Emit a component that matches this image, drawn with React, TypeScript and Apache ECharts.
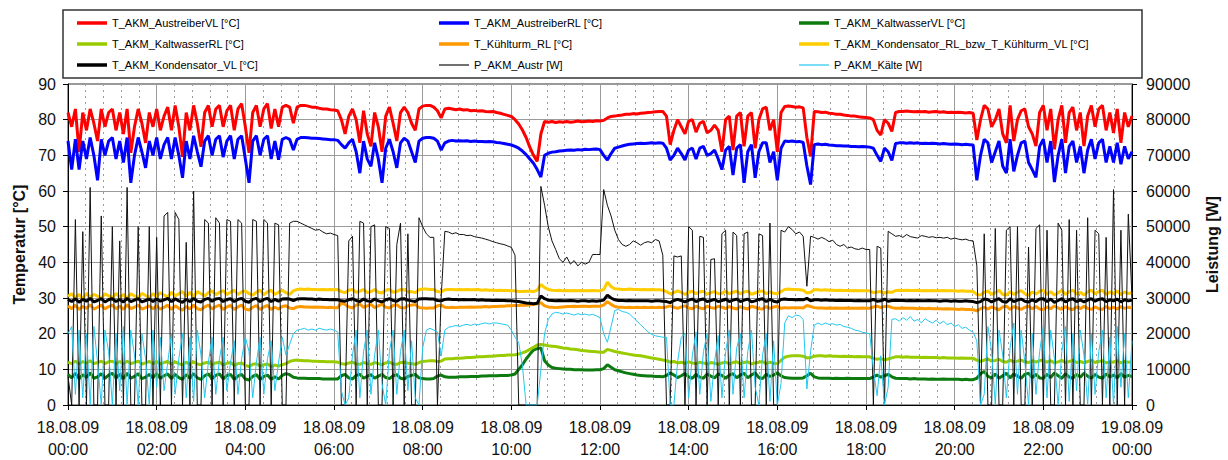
import React, { useEffect, useRef } from 'react';
import * as echarts from 'echarts';

// Sampling step of all series, minutes from 18.08.09 00:00
const STEP_MIN = 5;

const X_TICK_LABELS = [
  '18.08.09\n00:00', '18.08.09\n02:00', '18.08.09\n04:00', '18.08.09\n06:00', '18.08.09\n08:00',
  '18.08.09\n10:00', '18.08.09\n12:00', '18.08.09\n14:00', '18.08.09\n16:00', '18.08.09\n18:00',
  '18.08.09\n20:00', '18.08.09\n22:00', '19.08.09\n00:00',
];

const T_AUSTREIBER_VL = [
  82, 78, 83, 71, 82, 77, 83, 79, 74, 83, 78, 82,
  83, 77, 82, 76, 83, 70.7, 78, 83, 79, 73.5, 82, 78,
  83, 77, 81, 83.5, 77, 84, 78, 69.6, 82, 77, 84, 79,
  72.4, 82, 84, 78, 83, 84, 78, 82.5, 84, 77, 83, 84.5,
  78, 70.7, 82, 84, 78, 83, 84.5, 77.5, 83, 78, 83.5, 84,
  83.5, 79, 83.5, 84, 84, 83.8, 83.5, 83.5, 83.2, 83, 83, 82.8,
  82.7, 82.5, 80, 76, 81, 83, 80, 73.5, 82.5, 76, 72.5, 82,
  78, 71, 81, 83.5, 79, 74, 82, 83.5, 82, 79, 77, 83,
  83.8, 84, 84, 83.5, 82.5, 80.5, 83, 83.2, 83, 82.8, 83, 82.7,
  82.8, 82.5, 82.6, 82.4, 82.5, 82.3, 82.2, 82.3, 82, 81.8, 81.5, 81.2,
  80.9, 80, 78.8, 77.1, 75, 72.3, 70, 68.3, 76, 79.5, 79.3, 79.5,
  79.2, 79.4, 79.3, 79.5, 79.3, 79.4, 79.6, 79.4, 79.5, 79.6, 79.5, 79.7,
  79.6, 79.8, 80.5, 80.9, 81, 81.2, 81.3, 81.5, 81.5, 81.7, 81.6, 81.8,
  81.9, 82, 82.1, 82.2, 82.3, 82.3, 81, 73, 77, 80, 78, 76,
  79.6, 80, 76.5, 79, 79.5, 76.3, 77, 78.5, 77, 71, 80, 81,
  71.5, 81, 82, 72.5, 81, 82, 72, 80, 83, 83.5, 77, 80,
  71, 82, 83.7, 83.8, 83.7, 83.5, 83.6, 83.3, 75, 69.7, 82.3, 82.2,
  82, 82.1, 81.8, 81.7, 81.5, 81.5, 81.3, 81.2, 81, 81, 80.8, 80.7,
  80.6, 80.5, 80, 77, 75.7, 80, 79, 76.7, 82, 82.3, 82.3, 82.4,
  82.3, 82.2, 82.3, 82.2, 82.3, 82.1, 82.2, 82.3, 82.1, 82.2, 82, 82.1,
  82, 82.1, 82, 81.9, 82, 81.8, 74.3, 80, 84, 83, 78, 80,
  83, 76, 73.5, 84, 74, 80, 82.5, 83, 78, 76, 72.6, 82,
  84, 77, 83, 71.7, 80, 84, 73.5, 82, 83.5, 77, 82, 72.6,
  81, 84, 78, 83, 84, 77, 82, 76.3, 83, 73.5, 82, 78,
  81,
];

const T_AUSTREIBER_RL = [
  74, 66, 74.5, 66, 74, 69, 75, 70, 63, 74.5, 70, 74,
  75, 69, 74, 68, 75, 62.3, 70, 75, 71, 66.5, 74, 70,
  75, 69, 73, 75, 69, 75, 70, 63.7, 74, 69, 75.5, 71,
  66.8, 74, 75.5, 70, 74.5, 75.5, 69.5, 74, 75.5, 69, 74.5, 75.5,
  69, 62.3, 74, 75.5, 70, 74.5, 75.5, 69, 74, 68.8, 74.5, 75,
  74.5, 71.5, 74.5, 75, 75, 74.9, 74.8, 74.8, 74.7, 74.6, 74.5, 74.4,
  74.4, 74.2, 73, 72, 73.5, 74.5, 71, 65, 74, 69, 66.9, 73.5,
  69, 62.3, 72, 74.5, 71, 66.5, 73.5, 74.8, 74, 71, 68, 74,
  74.8, 75, 75, 74.8, 74, 71.5, 73.5, 74, 74.2, 74, 74.1, 74,
  74.1, 73.9, 74, 73.9, 73.9, 73.8, 73.9, 73.8, 73.6, 73.5, 73.3, 73.1,
  72.9, 72.5, 72, 71.2, 70.2, 69, 67.8, 66, 63.9, 70, 70.6, 70.9,
  71, 71.2, 71.3, 71.4, 71.5, 71.4, 71.6, 71.5, 71.7, 71.6, 71.7, 71.8,
  71.6, 70, 68.7, 70.5, 72, 72.3, 72.6, 72.9, 73.1, 73.2, 73.3, 73.4,
  73.3, 73.4, 73.5, 73.4, 73.5, 73.4, 72, 68.7, 70, 72, 70.5, 68.7,
  71.5, 72, 69, 72, 72.5, 70, 70.5, 71.5, 69, 66, 71.5, 72.5,
  64.5, 72, 73, 62.3, 71, 73, 63.7, 71, 73.5, 73.5, 68, 71,
  63, 72, 74, 73.9, 74, 73.8, 73.9, 73.6, 67, 61.8, 73, 73.2,
  73, 73.1, 72.9, 72.8, 72.7, 72.7, 72.6, 72.6, 72.5, 72.5, 72.4, 72.5,
  72.4, 72.3, 72, 70, 68.3, 72, 71, 68.6, 73.3, 73.5, 73.5, 73.4,
  73.5, 73.4, 73.5, 73.3, 73.4, 73.3, 73.4, 73.3, 73.2, 73.3, 73.2, 73.1,
  73.2, 73.1, 73, 73.1, 73, 72.9, 63, 70, 74.5, 73.5, 68, 71,
  74, 67, 65, 74.5, 65.5, 70, 73.5, 74, 68, 66, 63.8, 72.5,
  74.5, 68, 74, 62.5, 70, 74.5, 65, 72.5, 74, 68, 72.5, 65,
  71.5, 74.5, 69, 73.5, 74.5, 68, 72.5, 68, 73.5, 67.5, 72.5, 69,
  71,
];

const T_KALTWASSER_VL = [
  8.6, 7.6, 8.9, 7.4, 8.5, 7.8, 9, 7.5, 7.9, 8.8, 7.5, 8.4,
  8.9, 7.6, 8.6, 7.4, 8.9, 7.5, 8, 8.8, 7.4, 7.8, 8.6, 7.6,
  8.8, 7.5, 8.2, 8.7, 7.4, 8.6, 7.7, 7.2, 8.5, 7.5, 8.8, 7.6,
  7.2, 8.2, 8.7, 7.4, 8.3, 8.7, 7.3, 8.2, 8.6, 7.2, 8.1, 8.6,
  7.3, 7, 8, 8.5, 7.2, 8, 8.4, 7.2, 7.9, 7.3, 8.3, 8.8,
  8.5, 7.8, 7.6, 7.5, 7.5, 7.4, 7.4, 7.4, 7.4, 7.3, 7.3, 7.3,
  7.3, 7.3, 8.2, 8.6, 7.6, 7.3, 8.3, 8.6, 7.5, 8, 8.5, 7.5,
  8.1, 8.6, 7.7, 7.4, 8.2, 8.5, 7.5, 7.3, 8, 8.3, 8.6, 7.6,
  7.4, 7.3, 7.3, 7.4, 8.1, 8.4, 7.9, 7.8, 7.8, 7.8, 7.9, 7.9,
  7.9, 8, 8, 8, 8.1, 8.1, 8.2, 8.2, 8.2, 8.3, 8.3, 8.3,
  8.4, 8.7, 10, 11.3, 12.9, 14.2, 15.4, 15.8, 16, 12.4, 11.2, 10.5,
  10.3, 10.2, 10.1, 10, 10, 9.9, 9.9, 9.9, 9.8, 9.8, 9.8, 9.9,
  9.9, 10.2, 11.3, 10.6, 9.9, 9.6, 9.3, 9, 8.8, 8.6, 8.4, 8.3,
  8.2, 8.1, 8.1, 8, 8, 7.9, 8.3, 9, 8.4, 7.7, 8.2, 8.8,
  7.9, 7.5, 8.6, 7.8, 7.5, 8.7, 8.1, 7.6, 8.7, 8.3, 7.5, 8.4,
  8.8, 7.6, 8.4, 8.9, 7.6, 8.4, 9, 7.7, 7.4, 8.6, 8, 8.4,
  9, 8.2, 7.7, 7.6, 7.5, 7.5, 7.5, 7.6, 8.2, 8.9, 7.9, 7.6,
  7.5, 7.5, 7.5, 7.4, 7.5, 7.4, 7.4, 7.5, 7.4, 7.4, 7.4, 7.4,
  7.4, 7.4, 7.9, 8.4, 7.8, 8.2, 8.6, 7.9, 7.5, 7.4, 7.4, 7.4,
  7.3, 7.4, 7.3, 7.3, 7.3, 7.2, 7.3, 7.2, 7.2, 7.3, 7.2, 7.2,
  7.2, 7.2, 7.1, 7.2, 7.1, 7.1, 7.5, 8.8, 9.4, 8, 7.6, 8.7,
  7.5, 8.2, 8.9, 7.6, 8.7, 8.1, 7.5, 8.6, 8.9, 7.7, 8.6, 7.6,
  7.5, 8.6, 7.7, 9, 8.2, 7.5, 8.8, 7.8, 7.5, 8.6, 7.8, 8.9,
  8.1, 7.5, 8.6, 7.8, 7.5, 8.7, 7.9, 8.4, 7.6, 8.8, 7.8, 8.3,
  8,
];

const T_KALTWASSER_RL = [
  12, 11.6, 12.3, 11.5, 12.2, 11.7, 12.4, 11.6, 11.9, 12.3, 11.6, 12.1,
  12.3, 11.6, 12.2, 11.5, 12.3, 11.6, 11.9, 12.3, 11.5, 11.8, 12.2, 11.6,
  12.2, 11.5, 11.9, 12.2, 11.4, 12.1, 11.6, 11.3, 12, 11.4, 12.1, 11.5,
  11.3, 11.8, 12, 11.3, 11.8, 12, 11.2, 11.7, 11.9, 11.1, 11.6, 11.8,
  11.1, 10.8, 11.4, 11.6, 10.9, 11.3, 11.5, 10.8, 11.2, 10.9, 11.3, 11.6,
  12.2, 12.5, 12.6, 12.5, 12.4, 12.4, 12.3, 12.3, 12.2, 12.2, 12.1, 12.1,
  12.1, 12, 11.6, 11.4, 11.8, 12, 11.5, 11.4, 11.9, 11.6, 11.4, 11.9,
  11.6, 11.3, 11.8, 12, 11.5, 11.4, 11.9, 12, 11.7, 11.6, 11.4, 11.9,
  12.2, 12.3, 12.4, 12.4, 12.2, 12.3, 12.9, 13, 13, 13.1, 13.1, 13.2,
  13.3, 13.3, 13.4, 13.5, 13.5, 13.6, 13.7, 13.7, 13.8, 13.9, 13.9, 14,
  14, 14.1, 14.3, 14.6, 15, 15.6, 16.2, 16.8, 17, 16.8, 16.6, 16.5,
  16.4, 16.2, 16, 15.9, 15.7, 15.6, 15.5, 15.3, 15.2, 15.1, 15, 14.9,
  14.8, 14.8, 15.6, 15.3, 15, 14.8, 14.6, 14.4, 14.2, 14, 13.9, 13.8,
  13.6, 13.4, 13.2, 13, 12.8, 12.6, 12.4, 12, 12.2, 11.8, 12, 11.7,
  12.1, 11.8, 11.6, 12, 11.8, 11.5, 11.9, 11.7, 11.4, 11.8, 12, 11.5,
  11.9, 12.1, 11.6, 11.9, 12.1, 11.5, 11.8, 12, 12.2, 11.6, 12, 11.7,
  11.6, 12.5, 13.4, 13.7, 13.8, 13.8, 13.8, 13.7, 13.2, 13.3, 13.7, 13.8,
  13.8, 13.7, 13.8, 13.7, 13.7, 13.6, 13.7, 13.6, 13.6, 13.5, 13.6, 13.5,
  13.5, 13.5, 13.1, 12.8, 13, 12.7, 12.9, 13.2, 13.5, 13.5, 13.4, 13.5,
  13.4, 13.4, 13.4, 13.3, 13.4, 13.3, 13.3, 13.3, 13.2, 13.3, 13.2, 13.2,
  13.2, 13.1, 13.2, 13.1, 13.1, 13.1, 12.6, 12.2, 12.6, 12.9, 12.3, 12.5,
  12.8, 12.2, 12, 12.6, 12.1, 12.3, 12.6, 12.1, 11.9, 12.4, 12, 12.4,
  12.6, 12, 12.4, 11.8, 12.1, 12.5, 11.9, 12.2, 12.5, 11.9, 12.2, 11.8,
  12.2, 12.5, 11.9, 12.2, 12.4, 11.8, 12.1, 12, 12.4, 11.8, 12.2, 12,
  12.1,
];

const T_KUEHLTURM_RL = [
  27.8, 27, 28, 26.8, 27.6, 27.1, 28.1, 26.9, 27.4, 28, 26.9, 27.6,
  28, 27, 27.7, 26.8, 28.1, 27, 27.4, 28, 26.9, 27.3, 27.8, 27,
  27.8, 26.9, 27.4, 28, 26.8, 27.8, 27.1, 26.6, 27.6, 26.9, 28, 27,
  26.7, 27.5, 28, 26.9, 27.6, 28, 26.8, 27.5, 27.9, 26.8, 27.5, 28,
  26.9, 26.6, 27.4, 27.9, 26.8, 27.5, 27.9, 26.8, 27.4, 26.9, 27.6, 27.8,
  27.2, 27, 27.5, 27.6, 27.5, 27.5, 27.4, 27.5, 27.4, 27.4, 27.3, 27.4,
  27.3, 27.3, 28.6, 28.2, 27.5, 27.2, 28, 28.3, 27.4, 27.8, 28.2, 27.3,
  27.8, 28.3, 27.4, 27.2, 27.9, 28.1, 27.3, 27.2, 27.8, 28, 28.2, 27.3,
  27.2, 27.1, 27.2, 27.2, 27.8, 28, 27.4, 27.3, 27.4, 27.3, 27.4, 27.4,
  27.4, 27.5, 27.4, 27.5, 27.5, 27.6, 27.5, 27.6, 27.6, 27.7, 27.7, 27.8,
  27.8, 27.9, 27.9, 28, 28, 28.1, 28.2, 28.4, 28.7, 27.8, 27.5, 27.4,
  27.3, 27.4, 27.5, 27.6, 27.6, 27.7, 27.6, 27.7, 27.7, 27.6, 27.7, 27.7,
  27.7, 28, 29, 28.2, 27.6, 27.4, 27.4, 27.3, 27.4, 27.3, 27.4, 27.3,
  27.4, 27.3, 27.4, 27.3, 27.4, 27.3, 27.5, 27.8, 27.4, 27.1, 27.5, 27.8,
  27.2, 27, 27.7, 27.2, 27, 27.7, 27.3, 27.1, 27.7, 27.4, 27, 27.6,
  27.2, 26.9, 27.6, 27.2, 26.9, 27.7, 27.4, 27, 26.9, 27.6, 27.1, 27.5,
  27.7, 27.1, 27.3, 27.2, 27.3, 27.2, 27.3, 27.2, 27.9, 27.6, 27.3, 27.2,
  27.2, 27.1, 27.2, 27.1, 27.2, 27.1, 27.1, 27.2, 27.1, 27.1, 27.1, 27.2,
  27.1, 27.1, 27.5, 27.7, 27.3, 27.6, 27.7, 27.3, 27.1, 27.1, 27.2, 27.1,
  27.1, 27.1, 27, 27.1, 27, 27.1, 27, 27, 27, 26.9, 27, 26.9,
  26.9, 26.8, 26.9, 26.8, 26.8, 26.7, 26.4, 27, 27.4, 26.9, 27.5, 27.1,
  26.7, 27.5, 27.7, 26.8, 27.6, 27.2, 26.8, 27.4, 27.7, 27, 27.6, 26.9,
  26.8, 27.5, 27, 27.8, 27.2, 26.8, 27.6, 27, 26.8, 27.5, 27, 27.7,
  27.1, 26.8, 27.5, 27, 26.8, 27.6, 27, 27.4, 26.9, 27.6, 27.1, 27.4,
  27.2,
];

const T_KONDENSATOR_RL = [
  30.5, 31.2, 30, 31, 29.8, 31.3, 30.2, 31, 30.5, 29.8, 31.2, 30.6,
  30, 31.3, 30.2, 31, 29.9, 31.2, 30.6, 30, 31.3, 30.7, 30.1, 31.2,
  30.4, 31.5, 30.8, 30.3, 31.6, 30.6, 31.2, 31.8, 30.5, 31.6, 30.4, 31.8,
  31.2, 30.6, 31.5, 32, 30.9, 31.6, 32.1, 31, 31.6, 32.2, 31, 31.7,
  32, 31.2, 30.8, 31.6, 32.2, 30.9, 31.7, 32.2, 31, 31.6, 32.2, 31.5,
  31, 32, 32.4, 32.5, 32.4, 32.5, 32.4, 32.4, 32.3, 32.4, 32.3, 32.4,
  32.3, 32.4, 31.8, 31.5, 32.2, 32.4, 31.6, 31.9, 32.4, 31.5, 31.8, 32.4,
  31.6, 31.4, 32.2, 32.4, 31.6, 31.8, 32.4, 32.3, 31.7, 31.8, 31.5, 32.3,
  32.5, 32.5, 32.4, 32.4, 31.8, 31.7, 32.3, 32.4, 32.4, 32.3, 32.4, 32.3,
  32.4, 32.3, 32.3, 32.4, 32.2, 32.3, 32.2, 32.2, 32.1, 32.2, 32.1, 32.1,
  32, 32, 31.8, 31.8, 31.9, 31.9, 31.8, 32.2, 33.8, 32.9, 32.4, 32.2,
  32.1, 32.2, 32, 32.1, 32, 32.1, 32, 32.1, 32, 32, 32.1, 32,
  32, 32.4, 34.4, 33.2, 32.6, 32.5, 32.4, 32.4, 32.5, 32.4, 32.4, 32.3,
  32.4, 32.3, 32.4, 32.3, 32.3, 32.2, 31.8, 31.2, 31.5, 32, 31.6, 31,
  31.6, 31.9, 31.2, 31.7, 31.9, 31.1, 31.5, 31.8, 31.2, 31.3, 31.9, 31.2,
  31.6, 31.9, 31.2, 31.7, 31.9, 31, 31.4, 31.8, 32, 31.2, 31.7, 31.3,
  31.2, 31.8, 32.4, 32.5, 32.4, 32.4, 32.3, 32.2, 31.4, 31.6, 32.3, 32.3,
  32.2, 32.3, 32.2, 32.2, 32.1, 32.2, 32.1, 32.1, 32, 32.1, 32, 32,
  32, 32, 31.5, 31.7, 31.8, 31.4, 31.7, 31.6, 32.1, 32.2, 32.1, 32.2,
  32.1, 32.1, 32.2, 32, 32.1, 32, 32.1, 32, 32, 32.1, 32, 32,
  32, 31.9, 32, 31.9, 31.9, 31.8, 31, 30.8, 31.6, 32, 31, 31.5,
  32.2, 31, 30.8, 31.8, 31, 31.6, 32.1, 31.2, 30.7, 31.7, 31.1, 31.9,
  32.2, 31, 31.8, 30.8, 31.5, 32.1, 31, 31.8, 32.2, 31.1, 31.6, 30.8,
  31.7, 32.2, 31.1, 31.8, 32.2, 31, 31.7, 31.2, 32, 30.9, 31.7, 31.2,
  31.6,
];

const T_KONDENSATOR_VL = [
  29.6, 29, 29.8, 28.8, 29.6, 29.1, 29.9, 28.9, 29.3, 29.8, 28.9, 29.5,
  29.8, 29, 29.6, 28.9, 29.9, 29, 29.4, 29.8, 28.9, 29.3, 29.7, 29,
  29.7, 29.1, 29.5, 29.9, 29, 29.8, 29.2, 28.8, 29.6, 29, 29.9, 29.1,
  28.9, 29.6, 29.9, 29.1, 29.7, 29.9, 29, 29.6, 29.8, 29, 29.6, 29.9,
  29.1, 28.8, 29.6, 29.9, 29, 29.6, 29.9, 29, 29.6, 29.1, 29.7, 29.8,
  29.7, 29.3, 29.7, 29.8, 29.8, 29.7, 29.7, 29.6, 29.7, 29.6, 29.6, 29.5,
  29.6, 29.5, 29.2, 29.1, 29.5, 29.8, 29.3, 29, 29.7, 29.2, 29, 29.7,
  29.2, 28.9, 29.5, 29.8, 29.3, 29.1, 29.7, 29.8, 29.4, 29.2, 29, 29.7,
  29.8, 29.8, 29.7, 29.7, 29.3, 29.2, 29.6, 29.7, 29.6, 29.6, 29.5, 29.6,
  29.5, 29.5, 29.6, 29.4, 29.5, 29.4, 29.4, 29.3, 29.4, 29.3, 29.3, 29.2,
  29.2, 29.1, 29, 28.8, 28.6, 28.5, 28.4, 28.5, 30.6, 29.8, 29.4, 29.3,
  29.2, 29.3, 29.2, 29.2, 29.3, 29.2, 29.1, 29.2, 29.2, 29.1, 29.2, 29.1,
  29.2, 29.4, 30.8, 30, 29.5, 29.3, 29.3, 29.2, 29.3, 29.2, 29.2, 29.2,
  29.2, 29.2, 29.1, 29.2, 29.2, 29.1, 29, 28.7, 29.3, 29.6, 29.3, 28.9,
  29.4, 29.7, 29, 29.5, 29.7, 29, 29.3, 29.6, 29, 29.3, 29.7, 29,
  29.4, 29.7, 29, 29.4, 29.7, 28.9, 29.2, 29.6, 29.8, 29, 29.6, 29.1,
  28.9, 29.6, 29.7, 29.6, 29.6, 29.5, 29.6, 29.5, 29.9, 29.2, 29.5, 29.5,
  29.4, 29.5, 29.4, 29.4, 29.3, 29.4, 29.3, 29.3, 29.3, 29.2, 29.3, 29.2,
  29.2, 29.2, 29.6, 29.1, 29.2, 29.7, 29.1, 29.3, 29.4, 29.3, 29.3, 29.2,
  29.3, 29.2, 29.3, 29.2, 29.2, 29.3, 29.2, 29.2, 29.1, 29.2, 29.2, 29.1,
  29.2, 29.1, 29.1, 29.2, 29.1, 29, 28.7, 29, 29.7, 29.5, 28.9, 29.4,
  29.8, 29, 28.8, 29.8, 29, 29.4, 29.7, 29.1, 28.9, 29.5, 29, 29.7,
  29.8, 29, 29.7, 28.8, 29.3, 29.8, 28.9, 29.5, 29.8, 29, 29.5, 28.9,
  29.4, 29.8, 29.1, 29.6, 29.8, 29, 29.5, 29.2, 29.7, 28.9, 29.5, 29.2,
  29.4,
];

const P_AUSTR = [
  8000, 0, 52000, 0, 48600, 0, 61000, 0, 0, 53000, 0, 0,
  50000, 0, 46000, 0, 61000, 0, 0, 50000, 0, 0, 50000, 0,
  47000, 0, 53000, 54000, 0, 54000, 52000, 0, 45600, 0, 60000, 0,
  0, 52000, 51000, 0, 52500, 51000, 0, 52000, 51500, 0, 52000, 51000,
  0, 0, 52000, 51500, 0, 52000, 51000, 0, 51000, 50500, 0, 0,
  51000, 51500, 51500, 51000, 50500, 50000, 49500, 49000, 49200, 48500, 48000, 48200,
  47800, 47500, 0, 0, 46000, 47300, 0, 51500, 51000, 0, 50000, 50500,
  0, 0, 50000, 49500, 0, 45000, 51000, 0, 48000, 0, 0, 52500,
  50000, 48000, 47000, 47000, 0, 30000, 48700, 48500, 48000, 48300, 47800, 47800,
  47500, 47600, 47200, 47000, 46800, 46500, 46200, 45800, 45500, 45200, 45000, 44600,
  44200, 42000, 0, 0, 0, 0, 0, 0, 61300, 56000, 50000, 46000,
  43600, 41000, 40000, 41500, 39500, 40500, 39000, 40000, 39500, 40000, 42200, 42200,
  42200, 60400, 56000, 53000, 49000, 46400, 45000, 44500, 45000, 46000, 45500, 44800,
  45500, 45800, 45500, 46400, 46000, 42000, 0, 0, 41800, 41500, 41800, 0,
  50000, 49000, 0, 47300, 47000, 0, 40800, 41000, 0, 48000, 49000, 0,
  48500, 47500, 0, 48000, 48500, 0, 0, 48000, 47500, 0, 51000, 0,
  0, 49000, 48500, 50000, 49200, 48000, 48500, 47300, 33300, 47300, 47000, 46500,
  47000, 46500, 45800, 46200, 45000, 44500, 45000, 44000, 44300, 43800, 43600, 44000,
  43600, 43600, 0, 44500, 44000, 0, 48700, 48000, 47300, 47500, 47000, 47800,
  47200, 47000, 46800, 47500, 47300, 47000, 47200, 46900, 47000, 46800, 47000, 46500,
  46800, 46500, 46300, 46500, 46100, 46000, 39000, 0, 48000, 0, 0, 49500,
  0, 0, 49000, 50000, 0, 50000, 0, 0, 44300, 0, 49500, 50500,
  0, 49000, 0, 0, 51000, 49000, 0, 52000, 0, 49000, 0, 0,
  52500, 0, 49000, 48000, 0, 47000, 0, 60400, 0, 49000, 0, 53500,
  30000,
];

const P_KAELTE = [
  20000, 22000, 3000, 21000, 2000, 20000, 0, 22000, 12000, 0, 21000, 15000,
  0, 20000, 4000, 22000, 0, 21000, 14000, 0, 20000, 13000, 0, 21000,
  5000, 19000, 4000, 12000, 20000, 3000, 13000, 20000, 2000, 19000, 1000, 21000,
  14000, 2000, 12000, 19000, 3000, 13000, 19000, 4000, 12000, 18000, 3000, 13000,
  19000, 15000, 2000, 12000, 19000, 3000, 13000, 18000, 4000, 12000, 19000, 14000,
  17000, 20000, 21000, 21200, 21500, 21000, 21300, 21000, 21500, 21200, 21000, 21300,
  21000, 20500, 4000, 0, 2000, 14000, 21000, 2000, 15000, 21000, 3000, 14000,
  21000, 6000, 0, 15000, 21000, 3000, 15000, 21000, 4000, 18000, 2000, 0,
  16000, 21000, 21500, 21000, 20500, 13700, 21000, 21800, 22000, 22300, 22000, 22400,
  22600, 22300, 22700, 22500, 22800, 23000, 22700, 23000, 23000, 22800, 22600, 22400,
  21000, 19000, 17500, 11000, 0, 0, 0, 0, 10000, 20000, 24000, 25500,
  26000, 25800, 25500, 25800, 25500, 25200, 25600, 25300, 25500, 25200, 25400, 25000,
  24500, 20000, 17600, 22000, 26500, 26800, 26200, 26000, 25500, 24500, 23500, 22500,
  21500, 20500, 19800, 19400, 19200, 19000, 19000, 0, 0, 12000, 19000, 20000,
  2000, 14000, 20500, 3000, 15000, 20000, 1000, 12000, 19500, 2000, 15000, 21000,
  3000, 16000, 20000, 2000, 15000, 21000, 5000, 0, 14000, 20000, 1000, 18000,
  0, 6000, 23000, 25000, 24500, 25200, 25000, 24000, 4500, 15000, 22400, 23000,
  22500, 23000, 22600, 22800, 22400, 22600, 22000, 21800, 21500, 21000, 20800, 20400,
  20200, 20000, 10000, 2600, 13800, 0, 5000, 24000, 24200, 23500, 24500, 23800,
  24800, 23500, 24000, 23000, 24200, 23500, 23000, 23800, 22800, 23500, 22500, 23000,
  22000, 22500, 21500, 21800, 21000, 20400, 18000, 0, 3000, 22000, 15000, 0,
  21000, 14000, 2000, 16000, 23000, 3000, 21000, 12000, 0, 20000, 3000, 15000,
  22000, 2000, 21000, 13000, 0, 15000, 22000, 1000, 20000, 4000, 21000, 14000,
  0, 20000, 3000, 15000, 21000, 2000, 19000, 0, 22000, 5000, 20000, 2000,
  18000,
];

const FONT = '"Liberation Sans", Arial, Helvetica, sans-serif';

// legend glyphs: thick and thin horizontal bars
const ICON_THICK = 'path://M0 0H30V3.5H0Z';
const ICON_THIN = 'path://M0 0H30V1.2H0Z';

const SERIES_DEFS = [
  { name: 'T_AKM_AustreiberVL [°C]', data: T_AUSTREIBER_VL, color: '#ff0000', width: 3, axis: 0 },
  { name: 'T_AKM_AustreiberRL [°C]', data: T_AUSTREIBER_RL, color: '#0000ff', width: 3, axis: 0 },
  { name: 'T_AKM_KaltwasserVL [°C]', data: T_KALTWASSER_VL, color: '#0d7a10', width: 3, axis: 0 },
  { name: 'T_AKM_KaltwasserRL [°C]', data: T_KALTWASSER_RL, color: '#99cc00', width: 3, axis: 0 },
  { name: 'T_Kühlturm_RL [°C]', data: T_KUEHLTURM_RL, color: '#ff9900', width: 3, axis: 0 },
  { name: 'T_AKM_Kondensator_RL_bzw_T_Kühlturm_VL [°C]', data: T_KONDENSATOR_RL, color: '#ffcc00', width: 3, axis: 0 },
  { name: 'T_AKM_Kondensator_VL [°C]', data: T_KONDENSATOR_VL, color: '#000000', width: 3, axis: 0 },
  { name: 'P_AKM_Austr [W]', data: P_AUSTR, color: '#111111', width: 1, axis: 1 },
  { name: 'P_AKM_Kälte [W]', data: P_KAELTE, color: '#22c8f0', width: 1, axis: 1 },
];

const LEGEND_COLUMNS = [
  ['T_AKM_AustreiberVL [°C]', 'T_AKM_KaltwasserRL [°C]', 'T_AKM_Kondensator_VL [°C]'],
  ['T_AKM_AustreiberRL [°C]', 'T_Kühlturm_RL [°C]', 'P_AKM_Austr [W]'],
  ['T_AKM_KaltwasserVL [°C]', 'T_AKM_Kondensator_RL_bzw_T_Kühlturm_VL [°C]', 'P_AKM_Kälte [W]'],
];
const LEGEND_LEFTS = [77, 439, 799];

export default function App() {
  const ref = useRef<HTMLDivElement>(null);

  useEffect(() => {
    if (!ref.current) return;
    const chart = echarts.init(ref.current, null, { renderer: 'svg' });

    const series = SERIES_DEFS.map((s) => ({
      name: s.name,
      type: 'line',
      yAxisIndex: s.axis,
      symbol: 'none',
      data: s.data.map((v, i) => [i * STEP_MIN, v]),
      lineStyle: { color: s.color, width: s.width },
      itemStyle: { color: s.color },
      emphasis: { disabled: true },
      silent: true,
    }));

    const widthByName: Record<string, number> = {};
    SERIES_DEFS.forEach((s) => { widthByName[s.name] = s.width; });

    const legends = LEGEND_COLUMNS.map((col, k) => ({
      orient: 'vertical',
      left: LEGEND_LEFTS[k],
      top: 17,
      padding: 0,
      itemWidth: 30,
      itemHeight: 12,
      itemGap: 9,
      symbolKeepAspect: true,
      selectedMode: false,
      data: col.map((name) => ({ name, icon: widthByName[name] > 1 ? ICON_THICK : ICON_THIN })),
      textStyle: { fontFamily: FONT, fontSize: 11, color: '#000', lineHeight: 12 },
    }));

    const option = {
      animation: false,
      backgroundColor: '#ffffff',
      textStyle: { fontFamily: FONT },
      grid: { left: 68, right: 90, top: 84, bottom: 54, show: true, borderColor: '#333', borderWidth: 1 },
      legend: legends,
      graphic: [
        {
          type: 'rect',
          shape: { x: 63, y: 10, width: 1079, height: 68 },
          style: { fill: 'none', stroke: '#333', lineWidth: 1.5 },
          silent: true,
        },
      ],
      xAxis: {
        type: 'value',
        min: 0,
        max: 1440,
        interval: 120,
        axisLine: { show: true, onZero: false, lineStyle: { color: '#000', width: 1 } },
        axisTick: { show: true, length: 5, lineStyle: { color: '#000' } },
        axisLabel: {
          color: '#111',
          fontSize: 16,
          lineHeight: 22,
          margin: 11,
          fontFamily: FONT,
          formatter: (v: number) => X_TICK_LABELS[Math.round(v / 120)] ?? '',
        },
        splitLine: { show: true, lineStyle: { color: '#9a9a9a', width: 1 } },
        minorTick: { show: false, splitNumber: 5 },
        minorSplitLine: { show: true, lineStyle: { color: '#9a9a9a', width: 1, type: [2, 4] } },
      },
      yAxis: [
        {
          type: 'value',
          min: 0,
          max: 90,
          interval: 10,
          name: 'Temperatur [°C]',
          nameLocation: 'middle',
          nameRotate: 90,
          nameGap: 40,
          nameTextStyle: { fontFamily: FONT, fontSize: 16, fontWeight: 'bold', color: '#111' },
          axisLine: { show: true, lineStyle: { color: '#000', width: 1 } },
          axisTick: { show: true, length: 5, lineStyle: { color: '#000' } },
          axisLabel: { color: '#111', fontSize: 16, margin: 12, fontFamily: FONT },
          splitLine: { show: true, lineStyle: { color: '#9a9a9a', width: 1 } },
        },
        {
          type: 'value',
          min: 0,
          max: 90000,
          interval: 10000,
          position: 'right',
          name: 'Leistung [W]',
          nameLocation: 'middle',
          nameRotate: 90,
          nameGap: 72,
          nameTextStyle: { fontFamily: FONT, fontSize: 16, fontWeight: 'bold', color: '#111' },
          axisLine: { show: true, lineStyle: { color: '#000', width: 1 } },
          axisTick: { show: true, length: 5, lineStyle: { color: '#000' } },
          axisLabel: {
            color: '#111',
            fontSize: 16,
            margin: 14,
            fontFamily: FONT,
            formatter: (v: number) => String(v),
          },
          splitLine: { show: false },
        },
      ],
      series,
    };

    chart.setOption(option as any);
    return () => chart.dispose();
  }, []);

  return (
    <div
      ref={ref}
      style={{ position: 'fixed', left: 0, top: 0, width: 1228, height: 460, background: '#fff' }}
    />
  );
}
